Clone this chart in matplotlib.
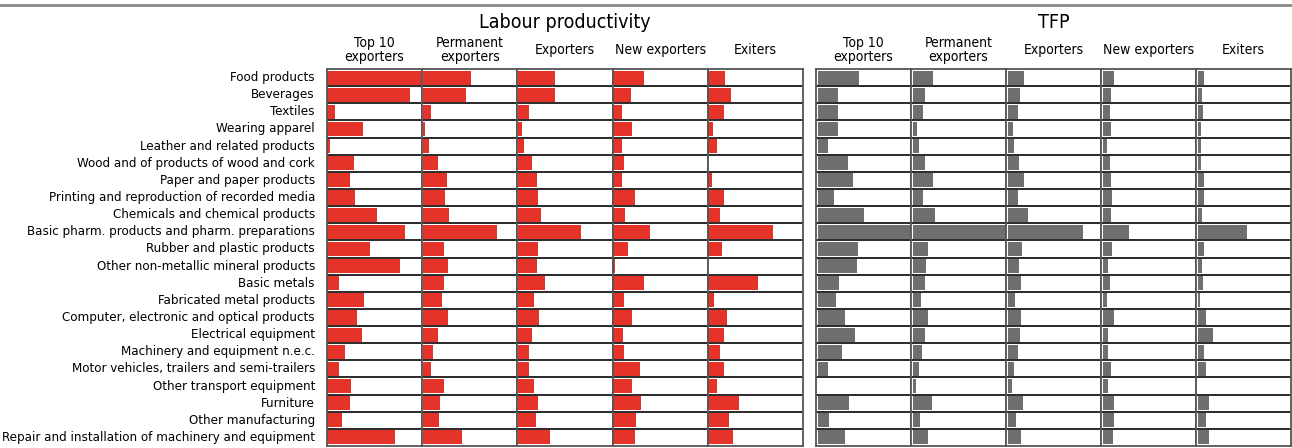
import numpy as np
import matplotlib
matplotlib.use("Agg")
import matplotlib.pyplot as plt

plt.rcParams['font.family'] = ['DejaVu Sans']
plt.rcParams['font.stretch'] = 'condensed'

# sector labels (top to bottom)
sectors = [
    "Food products", "Beverages", "Textiles", "Wearing apparel",
    "Leather and related products", "Wood and of products of wood and cork",
    "Paper and paper products", "Printing and reproduction of recorded media",
    "Chemicals and chemical products", "Basic pharm. products and pharm. preparations",
    "Rubber and plastic products", "Other non-metallic mineral products",
    "Basic metals", "Fabricated metal products",
    "Computer, electronic and optical products", "Electrical equipment",
    "Machinery and equipment n.e.c.", "Motor vehicles, trailers and semi-trailers",
    "Other transport equipment", "Furniture", "Other manufacturing",
    "Repair and installation of machinery and equipment",
]

groups = ["Top 10\nexporters", "Permanent\nexporters", "Exporters", "New exporters", "Exiters"]

# Labour productivity (share of column width)
lp_top10 = [0.98, 0.87, 0.08, 0.37, 0.025, 0.28, 0.235, 0.29, 0.52, 0.81, 0.45,
            0.76, 0.12, 0.38, 0.31, 0.36, 0.18, 0.12, 0.245, 0.235, 0.15, 0.71]
lp_perm = [0.51, 0.46, 0.09, 0.025, 0.07, 0.16, 0.26, 0.235, 0.28, 0.78, 0.22,
           0.27, 0.22, 0.20, 0.27, 0.16, 0.11, 0.09, 0.22, 0.18, 0.17, 0.41]
lp_exp = [0.39, 0.39, 0.12, 0.04, 0.065, 0.15, 0.20, 0.21, 0.24, 0.66, 0.21,
          0.20, 0.29, 0.17, 0.22, 0.15, 0.12, 0.12, 0.17, 0.21, 0.19, 0.34]
lp_new = [0.32, 0.19, 0.09, 0.20, 0.09, 0.11, 0.09, 0.23, 0.13, 0.39, 0.155,
          0.018, 0.32, 0.11, 0.20, 0.10, 0.11, 0.28, 0.20, 0.29, 0.24, 0.23]
lp_exit = [0.18, 0.24, 0.16, 0.045, 0.09, 0.0, 0.035, 0.17, 0.12, 0.68, 0.14,
           0.0, 0.52, 0.056, 0.20, 0.17, 0.12, 0.16, 0.09, 0.32, 0.22, 0.26]

# TFP (share of column width)
tfp_top10 = [0.43, 0.21, 0.21, 0.21, 0.11, 0.32, 0.365, 0.165, 0.49, 0.97, 0.42,
             0.41, 0.22, 0.19, 0.29, 0.39, 0.25, 0.11, 0.0, 0.33, 0.12, 0.28]
tfp_perm = [0.21, 0.13, 0.11, 0.04, 0.06, 0.13, 0.21, 0.11, 0.23, 0.98, 0.155,
            0.14, 0.13, 0.08, 0.155, 0.13, 0.10, 0.06, 0.03, 0.20, 0.07, 0.155]
tfp_exp = [0.17, 0.13, 0.105, 0.05, 0.06, 0.115, 0.17, 0.105, 0.21, 0.79, 0.15,
           0.115, 0.14, 0.07, 0.14, 0.13, 0.105, 0.06, 0.04, 0.16, 0.085, 0.14]
tfp_new = [0.12, 0.09, 0.07, 0.09, 0.04, 0.07, 0.09, 0.10, 0.09, 0.27, 0.10,
           0.05, 0.07, 0.04, 0.12, 0.05, 0.05, 0.08, 0.05, 0.12, 0.12, 0.11]
tfp_exit = [0.06, 0.04, 0.05, 0.03, 0.03, 0.03, 0.06, 0.06, 0.04, 0.52, 0.06,
            0.04, 0.05, 0.02, 0.085, 0.16, 0.06, 0.085, 0.0, 0.115, 0.085, 0.115]

lp_data = [lp_top10, lp_perm, lp_exp, lp_new, lp_exit]
tfp_data = [tfp_top10, tfp_perm, tfp_exp, tfp_new, tfp_exit]

RED = '#E63329'
GREY = '#6F6F6E'
W, H = 1292, 448

fig = plt.figure(figsize=(W / 100, H / 100), dpi=100)

# thin rule on top
fig.add_artist(plt.Line2D([0, 1], [1 - 5 / H, 1 - 5 / H], color='#8a8a8a', lw=2))


def px_axes(x0, y0, x1, y1):
    return fig.add_axes([x0 / W, 1 - y1 / H, (x1 - x0) / W, (y1 - y0) / H])


n = len(sectors)
y = np.arange(n)
top, bottom = 69, 446


def draw_panel(x_left, x_right, data, color, title, offset):
    col_w = (x_right - x_left) / 5
    fig.text(((x_left + x_right) / 2) / W, 1 - 22 / H, title, ha='center', va='center', fontsize=14)
    for k, vals in enumerate(data):
        ax = px_axes(x_left + k * col_w, top, x_left + (k + 1) * col_w, bottom)
        ax.barh(y, vals, left=offset, height=0.82, color=color)
        ax.set_xlim(0, 1)
        ax.set_ylim(n - 0.5, -0.5)
        for b in np.arange(0.5, n - 0.5):
            ax.axhline(b, color='#2a2a2a', lw=1.4)
        for s in ax.spines.values():
            s.set_color('#555555')
            s.set_linewidth(1.3)
        ax.set_xticks([])
        ax.set_yticks([])
        fig.text((x_left + (k + 0.5) * col_w) / W, 1 - 50 / H, groups[k],
                 ha='center', va='center', fontsize=10, linespacing=0.95)


draw_panel(327, 803, lp_data, RED, "Labour productivity", 0.005)
draw_panel(816, 1291, tfp_data, GREY, "TFP", 0.02)

for i, s in enumerate(sectors):
    yc = top + (bottom - top) * (i + 0.5) / n
    fig.text(315 / W, 1 - yc / H, s, ha='right', va='center', fontsize=9.5)

fig.savefig("out.png", dpi=100)
